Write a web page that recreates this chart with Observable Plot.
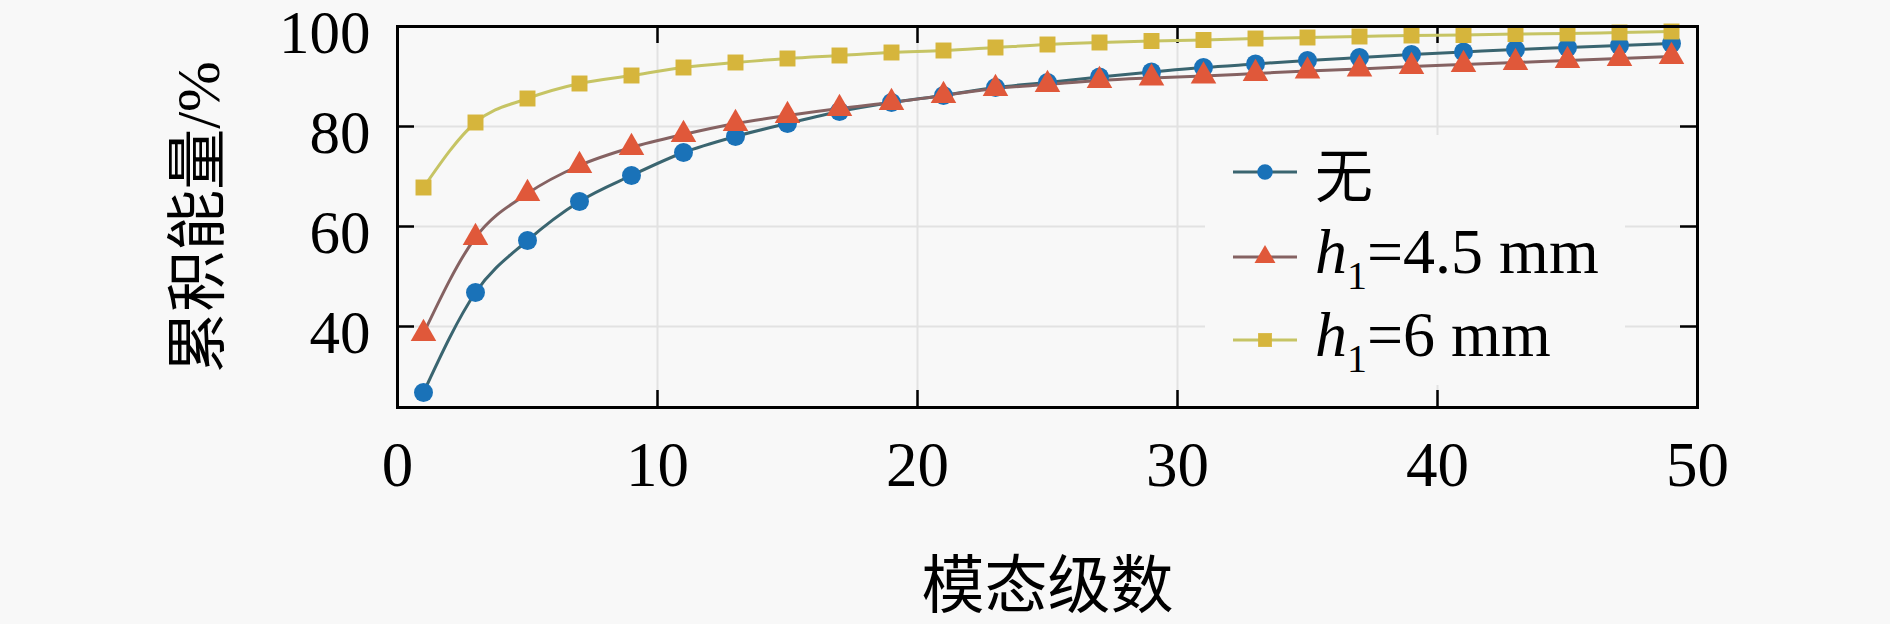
<!DOCTYPE html>
<html>
<head>
<meta charset="utf-8">
<script src="https://cdn.jsdelivr.net/npm/d3@7"></script>
<script src="https://cdn.jsdelivr.net/npm/@observablehq/plot@0.6"></script>
<style>
  html, body { margin: 0; padding: 0; background: #f8f8f8; }
  #wrap { position: relative; width: 1890px; height: 624px; background: #f8f8f8; overflow: hidden; }
  #legend { position: absolute; left: 1205px; top: 135px; width: 420px; height: 250px; background: #f8f8f8;
            font-family: "Liberation Serif", "Times New Roman", "Noto Sans CJK SC", serif; font-size: 64px; color: #000; }
  .item { position: absolute; left: 0; height: 80px; display: flex; align-items: center; white-space: nowrap; }
  .item svg { margin-left: 28px; margin-right: 18px; }
  .cjk { font-family: "Noto Sans CJK SC", sans-serif; font-size: 58px; }
  .sub { font-size: 40px; vertical-align: -16px; }
</style>
</head>
<body>
<div id="wrap"></div>
<script>
// ---- data ----
const modes = [1, 3, 5, 7, 9, 11, 13, 15, 17, 19, 21, 23, 25, 27, 29, 31, 33, 35, 37, 39, 41, 43, 45, 47, 49];
const seriesNone = [26.8, 46.8, 57.2, 65.0, 70.2, 74.8, 78.0, 80.6, 83.0, 84.8, 86.2, 87.8, 88.8, 89.9, 90.9, 91.8, 92.5, 93.2, 93.8, 94.4, 94.9, 95.4, 95.8, 96.2, 96.6];
const series45 = [38.6, 57.8, 66.6, 72.2, 75.8, 78.4, 80.6, 82.2, 83.6, 84.8, 86.2, 87.6, 88.4, 89.2, 89.7, 90.1, 90.6, 91.1, 91.5, 92.0, 92.4, 92.8, 93.2, 93.6, 94.0];
const series6 = [67.8, 80.8, 85.6, 88.6, 90.2, 91.8, 92.8, 93.6, 94.2, 94.8, 95.2, 95.8, 96.4, 96.8, 97.1, 97.3, 97.6, 97.8, 98.0, 98.2, 98.3, 98.5, 98.6, 98.8, 99.0];
const xTicks = [0, 10, 20, 30, 40, 50];
const yTicks = [40, 60, 80, 100];
const seriesNames = ["无", "h1=4.5 mm", "h1=6 mm"];
const xLabel = "模态级数";
const yLabel = "累积能量/%";

// ---- style ----
const markerColors = ["#1a72b8", "#e0583a", "#d6b53c"];
const lineColors = ["#3a6570", "#856262", "#c6c464"];
const symbols = ["circle", "triangle", "square"];
const seriesValues = [seriesNone, series45, series6];

const W = 1890, H = 624;
const mL = 397, mR = 193, mT = 26, mB = 217;
const plotW = W - mL - mR, plotH = H - mT - mB;
const tickLen = 17;

const marks = [
  Plot.gridX(xTicks, {stroke: "#e2e2e2", strokeOpacity: 1, strokeWidth: 2}),
  Plot.gridY(yTicks, {stroke: "#e2e2e2", strokeOpacity: 1, strokeWidth: 2}),
  Plot.axisX(xTicks, {tickSize: 0, tickPadding: 34, fontSize: 63, label: xLabel, labelAnchor: "center", labelOffset: 199, labelArrow: "none"}),
  Plot.axisY(yTicks, {tickSize: 0, tickPadding: 27, fontSize: 61, dy: 7, label: yLabel, labelAnchor: "center", labelOffset: 222, labelArrow: "none"}),
  Plot.ruleX(xTicks, {insetTop: plotH - tickLen, stroke: "#000", strokeWidth: 2.5}),
  Plot.ruleX(xTicks, {insetBottom: plotH - tickLen, stroke: "#000", strokeWidth: 2.5}),
  Plot.ruleY(yTicks, {insetRight: plotW - tickLen, stroke: "#000", strokeWidth: 2.5}),
  Plot.ruleY(yTicks, {insetLeft: plotW - tickLen, stroke: "#000", strokeWidth: 2.5})
];
seriesValues.forEach((vals, i) => {
  marks.push(Plot.line(modes, {x: modes, y: vals, curve: "monotone-x", stroke: lineColors[i], strokeWidth: 3}));
});
seriesValues.forEach((vals, i) => {
  marks.push(Plot.dot(modes, {x: modes, y: vals, symbol: symbols[i], r: i === 2 ? 9 : 9.5, fill: markerColors[i], stroke: "none"}));
});
marks.push(Plot.frame({stroke: "#000", strokeWidth: 3}));

const chart = Plot.plot({
  width: W, height: H,
  marginLeft: mL, marginRight: mR, marginTop: mT, marginBottom: mB,
  style: {background: "transparent", fontFamily: "'Liberation Serif','Times New Roman','Noto Sans CJK SC',serif", color: "#000", overflow: "visible"},
  x: {domain: [0, 50]},
  y: {domain: [23.8, 100]},
  marks
});
const wrap = document.getElementById("wrap");
wrap.appendChild(chart);

// ---- legend (HTML overlay) ----
const legend = document.createElement("div");
legend.id = "legend";
const centers = [37, 122, 205];
seriesNames.forEach((name, i) => {
  const item = document.createElement("div");
  item.className = "item";
  item.style.top = (centers[i] - 40) + "px";
  const ns = "http://www.w3.org/2000/svg";
  const svg = document.createElementNS(ns, "svg");
  svg.setAttribute("width", 64); svg.setAttribute("height", 26);
  const ln = document.createElementNS(ns, "line");
  ln.setAttribute("x1", 0); ln.setAttribute("x2", 64); ln.setAttribute("y1", 13); ln.setAttribute("y2", 13);
  ln.setAttribute("stroke", lineColors[i]); ln.setAttribute("stroke-width", 3);
  svg.appendChild(ln);
  const sym = document.createElementNS(ns, "path");
  sym.setAttribute("d", d3.symbol(i === 0 ? d3.symbolCircle : i === 1 ? d3.symbolTriangle : d3.symbolSquare, 190)());
  sym.setAttribute("transform", "translate(32,13)");
  sym.setAttribute("fill", markerColors[i]);
  svg.appendChild(sym);
  item.appendChild(svg);
  const label = document.createElement("span");
  if (i === 0) {
    label.className = "cjk";
    label.textContent = name;
  } else {
    const rest = name.slice(2);
    label.innerHTML = '<i>h</i><span class="sub">1</span>' + rest;
  }
  item.appendChild(label);
  legend.appendChild(item);
});
wrap.appendChild(legend);
</script>
</body>
</html>
